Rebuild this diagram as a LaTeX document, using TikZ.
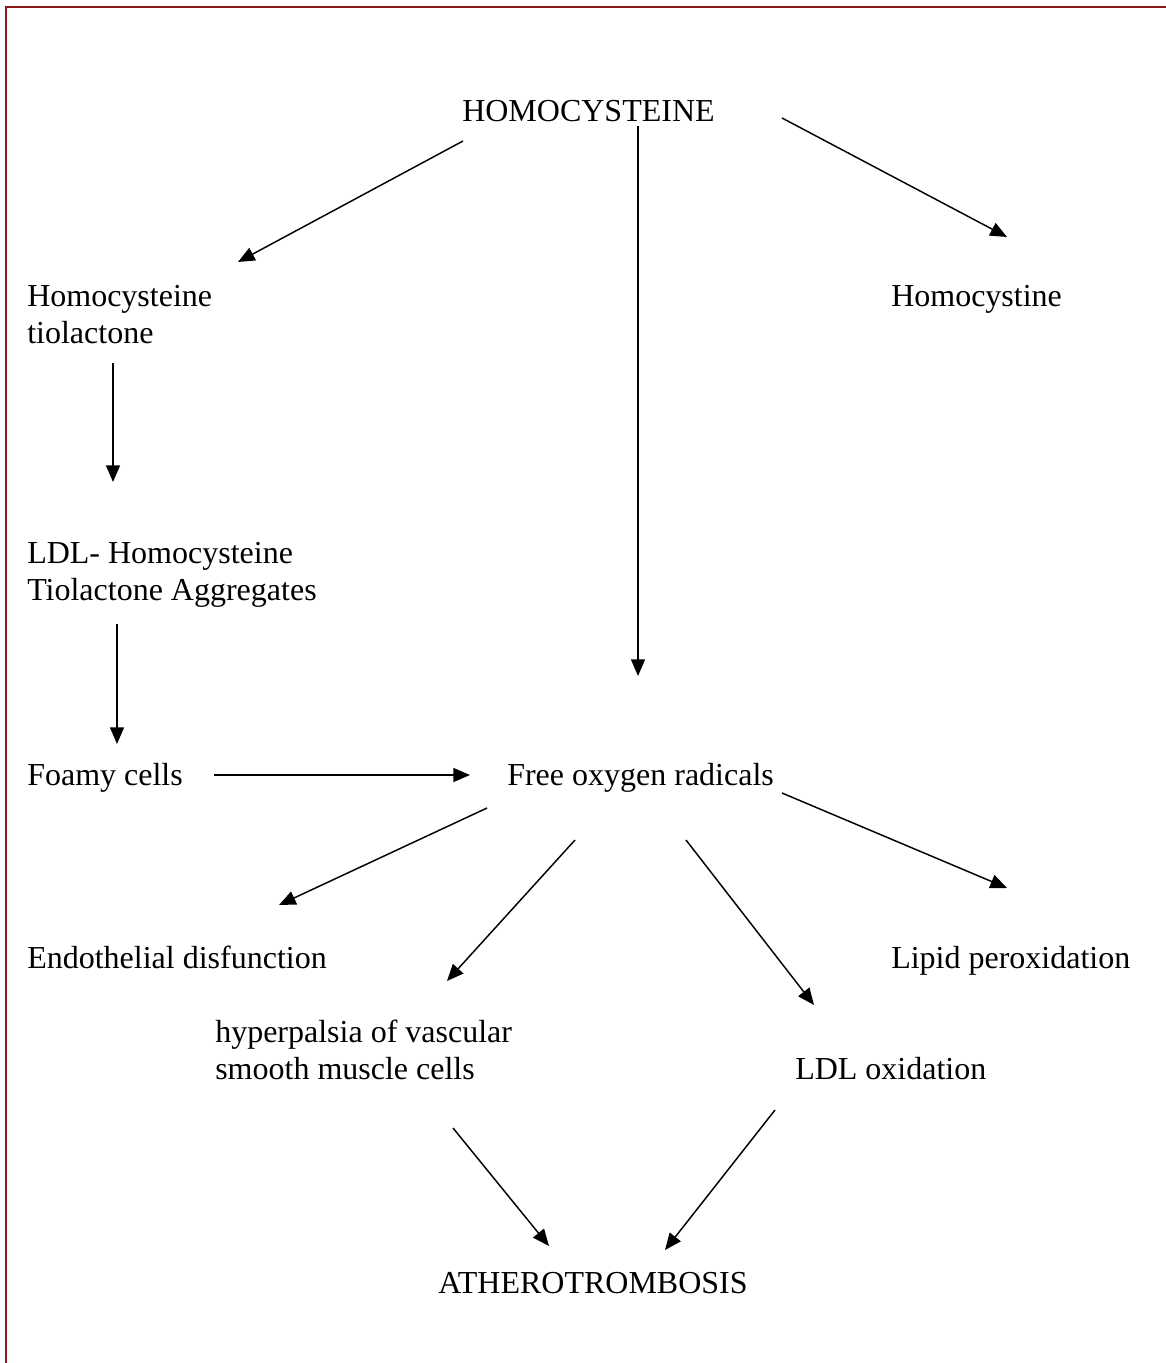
\documentclass[tikz,border=0pt]{standalone}
\usepackage{fontspec}
\setmainfont{Liberation Serif}
\usetikzlibrary{arrows.meta}
\definecolor{frame}{HTML}{8B1A1A}
\tikzset{
  lbl/.style={anchor=base west, inner sep=0pt, align=left, font=\fontsize{24}{27.6}\selectfont},
  arr/.style={draw=black, line width=1.1pt, -{Triangle[length=12.5pt,width=10.5pt]}}
}
\begin{document}
\begin{tikzpicture}[x=0.75pt,y=-0.75pt]
\useasboundingbox (0,0) rectangle (1166,1363);
\fill[white] (0,0) rectangle (1166,1363);
\draw[frame, line width=2pt] (6,1363) -- (6,7) -- (1166,7);

\node[lbl] (hcy) at (462,121) {HOMOCYSTEINE};
\node[lbl] (tio) at (27,343) {Homocysteine\\tiolactone};
\node[lbl] (hcs) at (891,306) {Homocystine};
\node[lbl] (ldlh) at (27,600) {LDL- Homocysteine\\Tiolactone Aggregates};
\node[lbl] (foam) at (27,785) {Foamy cells};
\node[lbl] (free) at (507,785) {Free oxygen radicals};
\node[lbl] (endo) at (27,968) {Endothelial disfunction};
\node[lbl] (lipid) at (891,968) {Lipid peroxidation};
\node[lbl] (hyp) at (215,1079) {hyperpalsia of vascular\\smooth muscle cells};
\node[lbl] (ldlo) at (795,1079) {LDL oxidation};
\node[lbl] (ath) at (438,1293) {ATHEROTROMBOSIS};

\coordinate (a1s) at (463,141); \coordinate (a1e) at (238,262);
\coordinate (a2s) at (638,126); \coordinate (a2e) at (638,676);
\coordinate (a3s) at (782,118); \coordinate (a3e) at (1007,237);
\coordinate (a4s) at (113,363); \coordinate (a4e) at (113,482);
\coordinate (a5s) at (117,624); \coordinate (a5e) at (117,744);
\coordinate (a6s) at (214,775); \coordinate (a6e) at (470,775);
\coordinate (a7s) at (487,808); \coordinate (a7e) at (279,905);
\coordinate (a8s) at (575,840); \coordinate (a8e) at (447,981);
\coordinate (a9s) at (686,840); \coordinate (a9e) at (814,1005);
\coordinate (a10s) at (782,793); \coordinate (a10e) at (1007,888);
\coordinate (a11s) at (453,1128); \coordinate (a11e) at (549,1246);
\coordinate (a12s) at (775,1110); \coordinate (a12e) at (665,1250);

\draw[arr] (a1s) -- (a1e);
\draw[arr] (a2s) -- (a2e);
\draw[arr] (a3s) -- (a3e);
\draw[arr] (a4s) -- (a4e);
\draw[arr] (a5s) -- (a5e);
\draw[arr] (a6s) -- (a6e);
\draw[arr] (a7s) -- (a7e);
\draw[arr] (a8s) -- (a8e);
\draw[arr] (a9s) -- (a9e);
\draw[arr] (a10s) -- (a10e);
\draw[arr] (a11s) -- (a11e);
\draw[arr] (a12s) -- (a12e);
\end{tikzpicture}
\end{document}
